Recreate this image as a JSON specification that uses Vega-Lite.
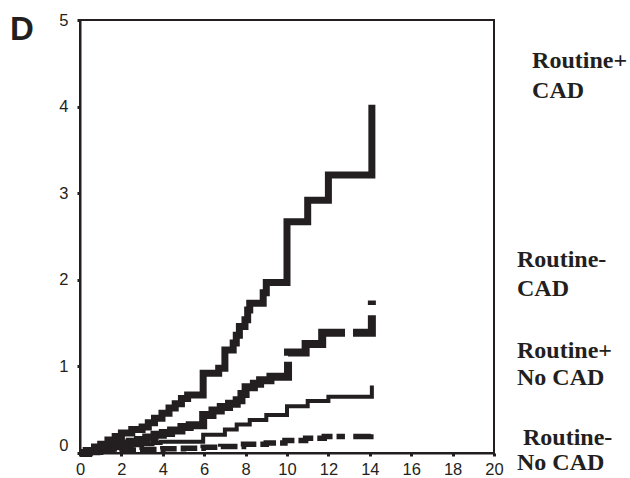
{
  "$schema": "https://vega.github.io/schema/vega-lite/v6.json",
  "width": 414,
  "height": 433,
  "autosize": {"type": "none"},
  "padding": {"left": 80, "top": 20, "right": 136, "bottom": 25},
  "background": "white",
  "config": {
    "view": {"stroke": "#231f20", "strokeWidth": 2},
    "axis": {
      "grid": false,
      "title": null,
      "domainColor": "#231f20",
      "domainWidth": 2,
      "tickColor": "#231f20",
      "tickSize": 3,
      "tickWidth": 3,
      "labelFont": "Liberation Sans",
      "labelFontSize": 16.5,
      "labelColor": "#231f20"
    }
  },
  "datasets": {
    "curves": [
      {"series": "Routine+ CAD", "x": 0, "y": 0},
      {"series": "Routine+ CAD", "x": 0.3, "y": 0.03},
      {"series": "Routine+ CAD", "x": 0.7, "y": 0.07},
      {"series": "Routine+ CAD", "x": 1.0, "y": 0.10},
      {"series": "Routine+ CAD", "x": 1.35, "y": 0.15},
      {"series": "Routine+ CAD", "x": 1.7, "y": 0.19},
      {"series": "Routine+ CAD", "x": 2.0, "y": 0.23},
      {"series": "Routine+ CAD", "x": 2.5, "y": 0.27},
      {"series": "Routine+ CAD", "x": 3.0, "y": 0.30},
      {"series": "Routine+ CAD", "x": 3.3, "y": 0.35},
      {"series": "Routine+ CAD", "x": 3.6, "y": 0.40},
      {"series": "Routine+ CAD", "x": 3.96, "y": 0.46},
      {"series": "Routine+ CAD", "x": 4.3, "y": 0.52},
      {"series": "Routine+ CAD", "x": 4.6, "y": 0.57},
      {"series": "Routine+ CAD", "x": 4.9, "y": 0.63},
      {"series": "Routine+ CAD", "x": 5.2, "y": 0.67},
      {"series": "Routine+ CAD", "x": 5.95, "y": 0.92},
      {"series": "Routine+ CAD", "x": 6.7, "y": 0.98},
      {"series": "Routine+ CAD", "x": 7.0, "y": 1.19},
      {"series": "Routine+ CAD", "x": 7.4, "y": 1.27},
      {"series": "Routine+ CAD", "x": 7.55, "y": 1.36},
      {"series": "Routine+ CAD", "x": 7.7, "y": 1.46},
      {"series": "Routine+ CAD", "x": 7.97, "y": 1.54},
      {"series": "Routine+ CAD", "x": 8.1, "y": 1.65},
      {"series": "Routine+ CAD", "x": 8.2, "y": 1.73},
      {"series": "Routine+ CAD", "x": 8.85, "y": 1.85},
      {"series": "Routine+ CAD", "x": 9.0, "y": 1.97},
      {"series": "Routine+ CAD", "x": 10.0, "y": 2.67},
      {"series": "Routine+ CAD", "x": 11.0, "y": 2.92},
      {"series": "Routine+ CAD", "x": 12.0, "y": 3.21},
      {"series": "Routine+ CAD", "x": 14.1, "y": 4.02},

      {"series": "Routine- CAD", "x": 0, "y": 0},
      {"series": "Routine- CAD", "x": 0.4, "y": 0.02},
      {"series": "Routine- CAD", "x": 0.8, "y": 0.04},
      {"series": "Routine- CAD", "x": 1.2, "y": 0.06},
      {"series": "Routine- CAD", "x": 1.6, "y": 0.08},
      {"series": "Routine- CAD", "x": 2.0, "y": 0.11},
      {"series": "Routine- CAD", "x": 2.4, "y": 0.13},
      {"series": "Routine- CAD", "x": 2.8, "y": 0.15},
      {"series": "Routine- CAD", "x": 3.2, "y": 0.18},
      {"series": "Routine- CAD", "x": 3.6, "y": 0.21},
      {"series": "Routine- CAD", "x": 4.0, "y": 0.23},
      {"series": "Routine- CAD", "x": 4.4, "y": 0.26},
      {"series": "Routine- CAD", "x": 4.9, "y": 0.30},
      {"series": "Routine- CAD", "x": 5.3, "y": 0.32},
      {"series": "Routine- CAD", "x": 5.95, "y": 0.44},
      {"series": "Routine- CAD", "x": 6.4, "y": 0.49},
      {"series": "Routine- CAD", "x": 6.8, "y": 0.53},
      {"series": "Routine- CAD", "x": 7.2, "y": 0.57},
      {"series": "Routine- CAD", "x": 7.57, "y": 0.61},
      {"series": "Routine- CAD", "x": 7.8, "y": 0.68},
      {"series": "Routine- CAD", "x": 8.0, "y": 0.76},
      {"series": "Routine- CAD", "x": 8.4, "y": 0.80},
      {"series": "Routine- CAD", "x": 8.7, "y": 0.84},
      {"series": "Routine- CAD", "x": 9.2, "y": 0.88},
      {"series": "Routine- CAD", "x": 10.05, "y": 1.16},
      {"series": "Routine- CAD", "x": 10.9, "y": 1.26},
      {"series": "Routine- CAD", "x": 11.7, "y": 1.39},
      {"series": "Routine- CAD", "x": 14.1, "y": 1.76},

      {"series": "Routine+ No CAD", "x": 0, "y": 0},
      {"series": "Routine+ No CAD", "x": 0.5, "y": 0.02},
      {"series": "Routine+ No CAD", "x": 1.0, "y": 0.04},
      {"series": "Routine+ No CAD", "x": 1.5, "y": 0.06},
      {"series": "Routine+ No CAD", "x": 2.0, "y": 0.08},
      {"series": "Routine+ No CAD", "x": 2.5, "y": 0.09},
      {"series": "Routine+ No CAD", "x": 3.0, "y": 0.10},
      {"series": "Routine+ No CAD", "x": 3.5, "y": 0.115},
      {"series": "Routine+ No CAD", "x": 3.9, "y": 0.13},
      {"series": "Routine+ No CAD", "x": 5.95, "y": 0.21},
      {"series": "Routine+ No CAD", "x": 7.0, "y": 0.27},
      {"series": "Routine+ No CAD", "x": 7.57, "y": 0.33},
      {"series": "Routine+ No CAD", "x": 8.2, "y": 0.38},
      {"series": "Routine+ No CAD", "x": 9.0, "y": 0.44},
      {"series": "Routine+ No CAD", "x": 10.0, "y": 0.54},
      {"series": "Routine+ No CAD", "x": 11.0, "y": 0.60},
      {"series": "Routine+ No CAD", "x": 12.0, "y": 0.65},
      {"series": "Routine+ No CAD", "x": 14.1, "y": 0.78},

      {"series": "Routine- No CAD", "x": 0, "y": 0},
      {"series": "Routine- No CAD", "x": 0.5, "y": 0.01},
      {"series": "Routine- No CAD", "x": 1.0, "y": 0.02},
      {"series": "Routine- No CAD", "x": 1.5, "y": 0.03},
      {"series": "Routine- No CAD", "x": 2.0, "y": 0.035},
      {"series": "Routine- No CAD", "x": 3.0, "y": 0.04},
      {"series": "Routine- No CAD", "x": 4.0, "y": 0.05},
      {"series": "Routine- No CAD", "x": 5.0, "y": 0.055},
      {"series": "Routine- No CAD", "x": 5.95, "y": 0.065},
      {"series": "Routine- No CAD", "x": 6.8, "y": 0.075},
      {"series": "Routine- No CAD", "x": 7.9, "y": 0.10},
      {"series": "Routine- No CAD", "x": 9.0, "y": 0.115},
      {"series": "Routine- No CAD", "x": 9.9, "y": 0.145},
      {"series": "Routine- No CAD", "x": 10.9, "y": 0.17},
      {"series": "Routine- No CAD", "x": 11.8, "y": 0.19},
      {"series": "Routine- No CAD", "x": 14.05, "y": 0.22}
    ],
    "labels": [
      {"text": "Routine+", "x": 21.84, "y": 4.446},
      {"text": "CAD", "x": 21.84, "y": 4.099},
      {"text": "Routine-", "x": 21.11, "y": 2.148},
      {"text": "CAD", "x": 21.11, "y": 1.813},
      {"text": "Routine+", "x": 21.11, "y": 1.097},
      {"text": "No CAD", "x": 21.11, "y": 0.785},
      {"text": "Routine-", "x": 21.40, "y": 0.092},
      {"text": "No CAD", "x": 21.11, "y": -0.196}
    ],
    "panel": [
      {"text": "D", "x": -3.38, "y": 4.77}
    ]
  },
  "encoding": {
    "x": {
      "field": "x", "type": "quantitative",
      "scale": {"domain": [0, 20], "nice": false, "zero": false},
      "axis": {"values": [0, 2, 4, 6, 8, 10, 12, 14, 16, 18, 20], "labelPadding": 5, "labelFlush": false}
    },
    "y": {
      "field": "y", "type": "quantitative",
      "scale": {"domain": [0, 5], "nice": false, "zero": false},
      "axis": {
        "values": [0, 1, 2, 3, 4, 5], "labelPadding": 9, "labelFlush": false,
        "labelBaseline": {"condition": {"test": "datum.value == 0", "value": "bottom"}, "value": "middle"}
      }
    }
  },
  "layer": [
    {
      "data": {"name": "curves"},
      "transform": [{"filter": "datum.series == 'Routine- No CAD'"}],
      "mark": {"type": "line", "interpolate": "step-after", "color": "#231f20", "strokeWidth": 5.5, "strokeCap": "butt", "strokeJoin": "miter",
               "strokeDash": [17, 4, 17, 4, 17, 4, 17, 4, 17, 4, 17, 4, 17, 4, 17, 4, 17, 4, 17, 4, 17, 4, 17, 4, 17, 4, 8.4, 8.3, 20, 4, 40]}
    },
    {
      "data": {"name": "curves"},
      "transform": [{"filter": "datum.series == 'Routine+ No CAD'"}],
      "mark": {"type": "line", "interpolate": "step-after", "color": "#231f20", "strokeWidth": 4, "strokeCap": "butt", "strokeJoin": "miter"}
    },
    {
      "data": {"name": "curves"},
      "transform": [{"filter": "datum.series == 'Routine- CAD'"}],
      "mark": {"type": "line", "interpolate": "step-after", "color": "#231f20", "strokeWidth": 8, "strokeCap": "butt", "strokeJoin": "miter",
               "strokeDash": [299.3, 6, 80.1, 8, 36.2, 10.3, 100]}
    },
    {
      "data": {"name": "curves"},
      "transform": [{"filter": "datum.series == 'Routine+ CAD'"}],
      "mark": {"type": "line", "interpolate": "step-after", "color": "#231f20", "strokeWidth": 7, "strokeCap": "butt", "strokeJoin": "miter"}
    },
    {
      "data": {"name": "labels"},
      "mark": {"type": "text", "align": "left", "baseline": "alphabetic", "font": "Liberation Serif", "fontWeight": "bold", "fontSize": 24, "color": "#231f20"},
      "encoding": {"text": {"field": "text"}}
    },
    {
      "data": {"name": "panel"},
      "mark": {"type": "text", "align": "left", "baseline": "alphabetic", "font": "Liberation Sans", "fontWeight": "bold", "fontSize": 33, "color": "#231f20"},
      "encoding": {"text": {"field": "text"}}
    }
  ]
}
